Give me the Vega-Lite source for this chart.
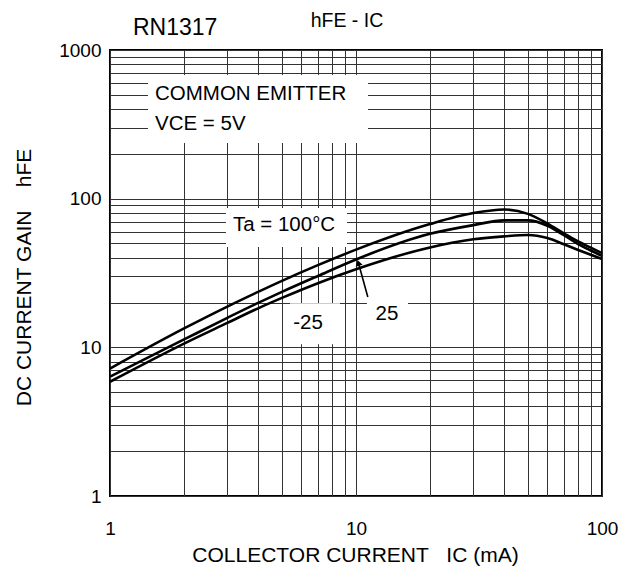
{
  "$schema": "https://vega.github.io/schema/vega-lite/v6.json",
  "width": 492,
  "height": 446,
  "autosize": {"type": "none"},
  "padding": {"left": 110, "top": 50, "right": 30, "bottom": 75},
  "background": "white",
  "config": {
    "font": "Liberation Sans",
    "view": {"stroke": "black", "strokeWidth": 2},
    "axis": {
      "grid": true,
      "gridColor": "#333333",
      "gridWidth": 1,
      "gridOpacity": 1,
      "ticks": false,
      "domain": false,
      "labelColor": "black",
      "titleColor": "black",
      "labelFont": "Liberation Sans",
      "titleFont": "Liberation Sans",
      "titleFontWeight": "normal",
      "labelOverlap": false,
      "labelFlush": false
    }
  },
  "datasets": {
    "curves": [
      {"series": "100", "x": 1, "y": 7.2},
      {"series": "100", "x": 2, "y": 13.4},
      {"series": "100", "x": 3, "y": 18.8},
      {"series": "100", "x": 4, "y": 23.6},
      {"series": "100", "x": 5, "y": 28.0},
      {"series": "100", "x": 7, "y": 35.7},
      {"series": "100", "x": 10, "y": 45.4},
      {"series": "100", "x": 20, "y": 67.5},
      {"series": "100", "x": 30, "y": 80},
      {"series": "100", "x": 40, "y": 84.5},
      {"series": "100", "x": 50, "y": 79},
      {"series": "100", "x": 60, "y": 68},
      {"series": "100", "x": 70, "y": 58.5},
      {"series": "100", "x": 80, "y": 51.5},
      {"series": "100", "x": 90, "y": 46.8},
      {"series": "100", "x": 100, "y": 43},
      {"series": "25", "x": 1, "y": 6.35},
      {"series": "25", "x": 2, "y": 11.3},
      {"series": "25", "x": 3, "y": 15.8},
      {"series": "25", "x": 4, "y": 19.9},
      {"series": "25", "x": 5, "y": 23.6},
      {"series": "25", "x": 7, "y": 30.2},
      {"series": "25", "x": 10, "y": 39},
      {"series": "25", "x": 20, "y": 58},
      {"series": "25", "x": 30, "y": 66.4},
      {"series": "25", "x": 40, "y": 71.5},
      {"series": "25", "x": 50, "y": 71.5},
      {"series": "25", "x": 60, "y": 65.8},
      {"series": "25", "x": 70, "y": 56.8},
      {"series": "25", "x": 80, "y": 49.5},
      {"series": "25", "x": 90, "y": 44.8},
      {"series": "25", "x": 100, "y": 41.2},
      {"series": "-25", "x": 1, "y": 5.87},
      {"series": "-25", "x": 2, "y": 10.6},
      {"series": "-25", "x": 3, "y": 14.6},
      {"series": "-25", "x": 4, "y": 18.3},
      {"series": "-25", "x": 5, "y": 21.5},
      {"series": "-25", "x": 7, "y": 27.0},
      {"series": "-25", "x": 10, "y": 33.5},
      {"series": "-25", "x": 20, "y": 47},
      {"series": "-25", "x": 30, "y": 53.3},
      {"series": "-25", "x": 40, "y": 55.8},
      {"series": "-25", "x": 50, "y": 57},
      {"series": "-25", "x": 60, "y": 54.3},
      {"series": "-25", "x": 70, "y": 49.3},
      {"series": "-25", "x": 80, "y": 45.2},
      {"series": "-25", "x": 90, "y": 42},
      {"series": "-25", "x": 100, "y": 39.3}
    ],
    "boxes": [
      {"x": 1.427, "x2": 11.19, "y": 236.8, "y2": 679},
      {"x": 2.96, "x2": 9.19, "y": 47.3, "y2": 86.5},
      {"x": 5.39, "x2": 8.61, "y": 10.5, "y2": 19.8},
      {"x": 11.08, "x2": 16.27, "y": 12.1, "y2": 22.5}
    ],
    "arrow": [
      {"x": 11.17, "y": 21.8, "x2": 10.25, "y2": 36.5}
    ],
    "arrowhead": [
      {"x": 10.22, "y": 37.0}
    ],
    "leftNotes": [
      {"x": 1.524, "y": 506, "text": "COMMON EMITTER"},
      {"x": 1.524, "y": 318, "text": "VCE = 5V"}
    ],
    "centerNotes": [
      {"x": 5.1, "y": 66.5, "text": "Ta = 100°C"},
      {"x": 6.38, "y": 14.58, "text": "-25"},
      {"x": 13.37, "y": 16.76, "text": "25"}
    ],
    "partNo": [
      {"x": 1.84, "y": 1262, "text": "RN1317"}
    ],
    "chartTitle": [
      {"x": 9.19, "y": 1428, "text": "hFE - IC"}
    ]
  },
  "encoding": {
    "x": {
      "field": "x",
      "type": "quantitative",
      "scale": {"type": "log", "domain": [1, 100], "nice": false},
      "axis": {
        "values": [1, 2, 3, 4, 5, 6, 7, 8, 9, 10, 20, 30, 40, 50, 60, 70, 80, 90, 100],
        "labelExpr": "datum.value == 1 || datum.value == 10 || datum.value == 100 ? format(datum.value, 'd') : ''",
        "labelFontSize": 19,
        "labelPadding": 23,
        "title": "COLLECTOR CURRENT\u00a0\u00a0\u00a0IC (mA)",
        "titleFontSize": 21,
        "titleX": 245,
        "titleY": 65,
        "titleBaseline": "alphabetic"
      }
    },
    "y": {
      "field": "y",
      "type": "quantitative",
      "scale": {"type": "log", "domain": [1, 1000], "nice": false},
      "axis": {
        "values": [1, 2, 3, 4, 5, 6, 7, 8, 9, 10, 20, 30, 40, 50, 60, 70, 80, 90, 100, 200, 300, 400, 500, 600, 700, 800, 900, 1000],
        "labelExpr": "datum.value == 1 || datum.value == 10 || datum.value == 100 || datum.value == 1000 ? format(datum.value, 'd') : ''",
        "labelFontSize": 19,
        "labelPadding": 9,
        "title": "DC CURRENT GAIN\u00a0\u00a0\u00a0\u00a0hFE",
        "titleFontSize": 21,
        "titleX": -86,
        "titleY": 227,
        "titleBaseline": "middle"
      }
    }
  },
  "layer": [
    {
      "data": {"name": "boxes"},
      "mark": {"type": "rect", "fill": "white", "stroke": null},
      "encoding": {"x2": {"field": "x2"}, "y2": {"field": "y2"}}
    },
    {
      "data": {"name": "curves"},
      "mark": {"type": "line", "color": "black", "strokeWidth": 2.6, "interpolate": "monotone"},
      "encoding": {"detail": {"field": "series"}}
    },
    {
      "data": {"name": "arrow"},
      "mark": {"type": "rule", "color": "black", "strokeWidth": 1.6},
      "encoding": {"x2": {"field": "x2"}, "y2": {"field": "y2"}}
    },
    {
      "data": {"name": "arrowhead"},
      "mark": {"type": "point", "shape": "triangle-up", "filled": true, "color": "black", "size": 50, "angle": -16, "opacity": 1},
      "encoding": {}
    },
    {
      "data": {"name": "leftNotes"},
      "mark": {"type": "text", "align": "left", "baseline": "middle", "fontSize": 20.5, "color": "black"},
      "encoding": {"text": {"field": "text"}}
    },
    {
      "data": {"name": "centerNotes"},
      "mark": {"type": "text", "align": "center", "baseline": "middle", "fontSize": 20.5, "color": "black"},
      "encoding": {"text": {"field": "text"}}
    },
    {
      "data": {"name": "partNo"},
      "mark": {"type": "text", "align": "center", "baseline": "alphabetic", "fontSize": 23, "color": "black"},
      "encoding": {"text": {"field": "text"}}
    },
    {
      "data": {"name": "chartTitle"},
      "mark": {"type": "text", "align": "center", "baseline": "alphabetic", "fontSize": 19.5, "color": "black"},
      "encoding": {"text": {"field": "text"}}
    }
  ]
}
